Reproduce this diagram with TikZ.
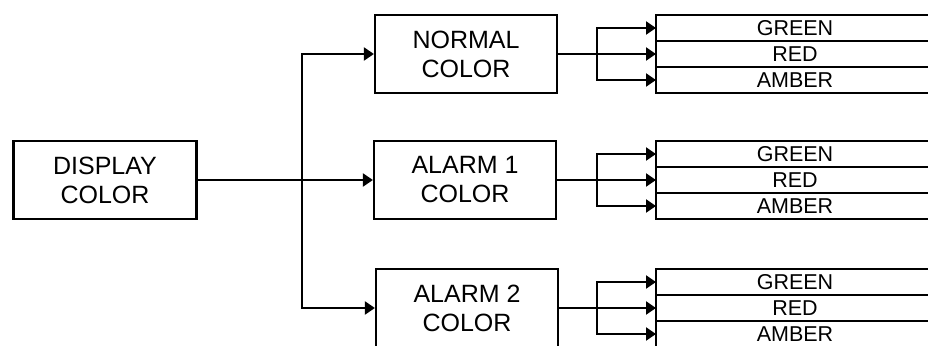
\documentclass[tikz,border=0pt]{standalone}
\usepackage{fontspec}
\setmainfont{Liberation Sans}
\usetikzlibrary{arrows.meta,positioning}

\begin{document}
\begin{tikzpicture}[x=1pt,y=-1pt,line width=2.2pt,
  blk/.style={draw,minimum width=182pt,minimum height=78pt,align=center,font=\fontsize{25}{29}\selectfont},
  cell/.style={draw,anchor=west,minimum width=278pt,minimum height=26pt,inner sep=0pt,outer sep=0pt,font=\fontsize{21.5}{23}\selectfont},
  arr/.style={-{Triangle[length=10pt,width=13pt]}}]
\useasboundingbox (0,0) rectangle (928,345);
\node[blk,minimum width=183pt] (disp) at (105,180) {DISPLAY\\COLOR};
\node[blk] (norm) at (466,54) {NORMAL\\COLOR};
\node[blk] (alm1) at (465,180) {ALARM 1\\COLOR};
\node[blk] (alm2) at (467,308) {ALARM 2\\COLOR};
% colour lists
\node[cell] (nr) at (656,54) {RED};
\node[cell,above=0pt of nr] (ng) {GREEN};
\node[cell,below=0pt of nr] (na) {AMBER};
\node[cell] (ar) at (656,180) {RED};
\node[cell,above=0pt of ar] (ag) {GREEN};
\node[cell,below=0pt of ar] (aa) {AMBER};
\node[cell] (br) at (656,308) {RED};
\node[cell,above=0pt of br] (bg) {GREEN};
\node[cell,below=0pt of br] (ba) {AMBER};
% connectors
\coordinate[right=104pt of disp.east] (tr);
\draw[arr] (disp.east) -- (alm1.west);
\draw[arr] (tr) |- (norm.west);
\draw[arr] (tr) |- (alm2.west);
\coordinate[right=39pt of norm.east] (nj);
\draw[arr] (norm.east) -- (nr.west);
\draw[arr] (nj) |- (ng.west);
\draw[arr] (nj) |- (na.west);
\coordinate[right=40pt of alm1.east] (aj);
\draw[arr] (alm1.east) -- (ar.west);
\draw[arr] (aj) |- (ag.west);
\draw[arr] (aj) |- (aa.west);
\coordinate[right=38pt of alm2.east] (bj);
\draw[arr] (alm2.east) -- (br.west);
\draw[arr] (bj) |- (bg.west);
\draw[arr] (bj) |- (ba.west);
\end{tikzpicture}
\end{document}
